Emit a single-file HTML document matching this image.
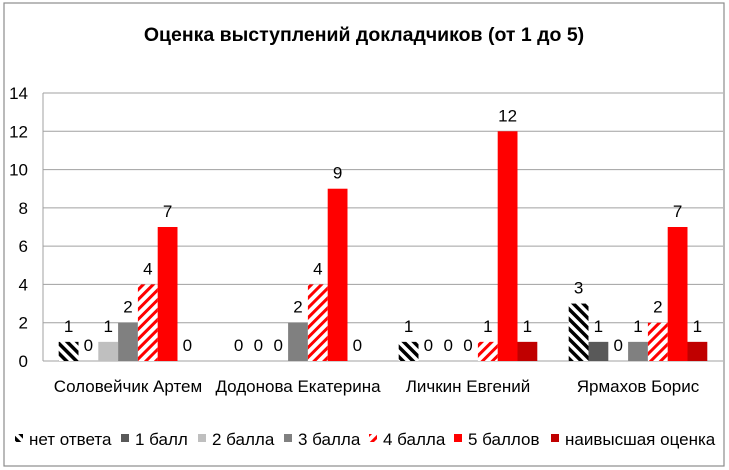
<!DOCTYPE html>
<html><head><meta charset="utf-8"><style>
body{margin:0;background:#fff}
svg{display:block;font-family:"Liberation Sans","DejaVu Sans",sans-serif}
</style></head><body>
<svg width="729" height="470" xmlns="http://www.w3.org/2000/svg">
<defs>
<pattern id="hb" patternUnits="userSpaceOnUse" width="7" height="7" patternTransform="rotate(-45)"><rect width="7" height="7" fill="#fff"/><rect width="3.5" height="7" fill="#000"/></pattern>
<pattern id="hr" patternUnits="userSpaceOnUse" width="7" height="7" patternTransform="rotate(45)"><rect width="7" height="7" fill="#fff"/><rect width="3" height="7" fill="#ff0000"/></pattern>
</defs>
<rect x="4" y="3" width="720" height="463" fill="#fff" stroke="#8c8c8c" stroke-width="1.2"/>
<text x="364" y="41" text-anchor="middle" font-size="19.5" font-weight="bold">Оценка выступлений докладчиков (от 1 до 5)</text>
<g id="grid"></g><g id="bars"></g><g id="legend"></g>
</svg>
<script>
const categories=["Соловейчик Артем","Додонова Екатерина","Личкин Евгений","Ярмахов Борис"];
const seriesNames=["нет ответа","1 балл","2 балла","3 балла","4 балла","5 баллов","наивысшая оценка"];
const s0=[1,0,1,3];
const s1=[0,0,0,1];
const s2=[1,0,0,0];
const s3=[2,2,0,1];
const s4=[4,4,1,2];
const s5=[7,9,12,7];
const s6=[0,0,1,1];
const yTicks=[0,2,4,6,8,10,12,14];
const series=[s0,s1,s2,s3,s4,s5,s6];
const fills=["url(#hb)","#595959","#bfbfbf","#808080","url(#hr)","#ff0000","#c00000"];
const NS="http://www.w3.org/2000/svg";
const L=43,R=723,T=93,B=361,yMax=14;
const y=v=>B-(v/yMax)*(B-T);
const gw=(R-L)/categories.length, bw=19.8, off=(gw-bw*7)/2;
const x=(c,s)=>L+c*gw+off+s*bw;
function mk(t,a,p){const e=document.createElementNS(NS,t);for(const k in a)e.setAttribute(k,a[k]);p.appendChild(e);return e;}
const grid=document.getElementById('grid');
yTicks.forEach(v=>{
 const l=mk('line',{x1:L,x2:R,y1:y(v),y2:y(v),stroke:'#a0a0a0','stroke-width':1},grid);
 
 
 const t=mk('text',{x:28,y:y(v)+6,'text-anchor':'end','font-size':17},grid);t.textContent=v;
 
 
});
mk('line',{x1:L,x2:L,y1:T,y2:B,stroke:'#a0a0a0'},grid);
const bars=document.getElementById('bars');
categories.forEach((c,ci)=>{
 const t=mk('text',{x:L+ci*gw+gw/2,y:392,'text-anchor':'middle','font-size':17},bars);t.textContent=c;
 
 
 series.forEach((s,si)=>{
  const v=s[ci];
  if(v>0){const r=mk('rect',{x:x(ci,si),y:y(v),width:bw,height:B-y(v),fill:fills[si]},bars);
   
   }
  const lb=mk('text',{x:x(ci,si)+bw/2,y:y(v)-10,'text-anchor':'middle','font-size':17},bars);lb.textContent=v;
  
  
 });
});
const leg=document.getElementById('legend');
const lx=[15,121,198,284,369,454,551];
seriesNames.forEach((n,i)=>{
 const r=mk('rect',{x:lx[i],y:434,width:8,height:8,fill:fills[i]},leg);
 
 
 const t=mk('text',{x:lx[i]+14,y:445,'font-size':17},leg);t.textContent=n;
 
 
});
</script>
</body></html>
